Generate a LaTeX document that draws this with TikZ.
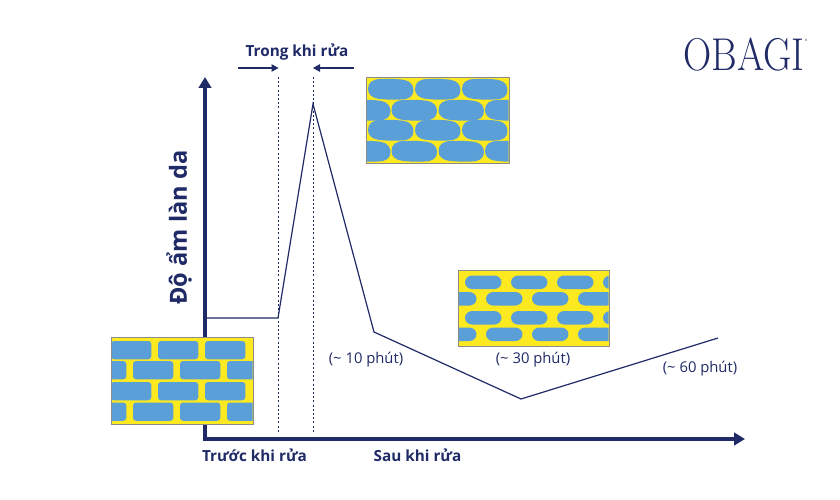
\documentclass[tikz,border=0pt]{standalone}
\usepackage{fontspec}
\setmainfont{Open Sans}
\newfontfamily\logofont{Latin Modern Roman}
\usetikzlibrary{arrows.meta}
\definecolor{navy}{HTML}{1F2A66}
\definecolor{cellblue}{HTML}{5B9FD9}
\definecolor{gapyellow}{HTML}{FDE91F}
\tikzset{
	axis/.style={navy,line width=3.4pt,-{Triangle[length=11pt,width=12.5pt]}},
	curve/.style={navy,line width=1.2pt,line join=miter},
	marker/.style={navy,line width=1pt,dash pattern=on 2pt off 2.2pt},
	span/.style={navy,line width=1.1pt,-{Triangle[length=7pt,width=7.5pt]}},
	label/.style={navy,font=\fontsize{15.3}{17}\selectfont\bfseries,inner sep=0pt},
	note/.style={navy,font=\fontsize{14.8}{16}\selectfont,inner sep=0pt},
	panel/.style={draw=black!45,line width=0.8pt,fill=gapyellow},
	cell/.style={fill=cellblue}
}
% one swollen cell: left, top, width, height
\newcommand{\swollencell}[4]{
	\fill[cell] (#1,#2+10) .. controls (#1,#2+3.5) and (#1+4.5,#2) .. (#1+13,#2)
		.. controls (#1+#3*0.4,#2-0.6) and (#1+#3*0.7,#2) .. (#1+#3-9,#2+1)
		.. controls (#1+#3-3.5,#2+2) and (#1+#3,#2+6) .. (#1+#3,#2+11)
		.. controls (#1+#3,#2+17) and (#1+#3-4,#2+#4) .. (#1+#3-13,#2+#4)
		.. controls (#1+#3*0.6,#2+#4+0.6) and (#1+#3*0.3,#2+#4) .. (#1+9,#2+#4-1)
		.. controls (#1+3.5,#2+#4-2) and (#1,#2+#4-5.5) .. (#1,#2+10) -- cycle;
}
% one shrunken cell: left, top
\newcommand{\shrunkencell}[2]{
	\fill[cell] (#1,#2+6.8) .. controls (#1,#2+3) and (#1+3.3,#2) .. (#1+7.5,#2)
		-- (#1+29,#2) .. controls (#1+33.2,#2) and (#1+36.5,#2+3) .. (#1+36.5,#2+6.8)
		.. controls (#1+36.5,#2+10.6) and (#1+33.2,#2+13.6) .. (#1+29,#2+13.6)
		-- (#1+7.5,#2+13.6) .. controls (#1+3.3,#2+13.6) and (#1,#2+10.6) .. (#1,#2+6.8) -- cycle;
}
\begin{document}
\begin{tikzpicture}[x=1pt,y=-1pt]
	\useasboundingbox (0,0) rectangle (840,500);
	\coordinate (origin) at (205,439);
	\coordinate (ytip) at (205,77);
	\coordinate (xtip) at (745,439);
	\coordinate (before) at (205,318);
	\coordinate (start) at (278,318);
	\coordinate (peak) at (313,104);
	\coordinate (tenmin) at (374,332);
	\coordinate (low) at (521,399);
	\coordinate (end) at (718,338);
	\coordinate (markAtop) at (278.5,77);
	\coordinate (markAbot) at (278.5,432);
	\coordinate (markBtop) at (313,77);
	\coordinate (markBbot) at (313,432);
	\coordinate (spanAfrom) at (238,68);
	\coordinate (spanAto) at (278.5,68);
	\coordinate (spanBfrom) at (354,68);
	\coordinate (spanBto) at (313,68);

	\draw[axis] ([xshift=-1.7pt]origin) -- (xtip);
	\draw[axis] (origin) -- (ytip);
	\draw[marker] (markAtop) -- (markAbot);
	\draw[marker] (markBtop) -- (markBbot);
	\draw[curve] (before) -- (start) -- (peak) -- (tenmin) -- (low) -- (end);
	\draw[span] (spanAfrom) -- (spanAto);
	\draw[span] (spanBfrom) -- (spanBto);

	% before washing
	\fill[panel] (111,337.5) rectangle (253,424.5);
	\begin{scope}
		\clip (111.5,338) rectangle (252.5,424);
		\foreach \y in {341,382} \foreach \x in {64,111,158,205}
			\fill[cell,rounded corners=3pt] (\x,\y) rectangle (\x+40.3,\y+18.3);
		\foreach \y in {361,402.5} \foreach \x in {86,133,180,227}
			\fill[cell,rounded corners=3pt] (\x,\y) rectangle (\x+40.3,\y+18.3);
	\end{scope}
	\draw[draw=black!45,line width=0.8pt] (111,337.5) rectangle (253,424.5);

	% during washing
	\fill[panel] (366,77.5) rectangle (509,163.5);
	\begin{scope}
		\clip (366.5,78) rectangle (508.5,163);
		\foreach \y in {79,120} \foreach \x in {368,415,462} {
			\swollencell{\x}{\y}{45.5}{20.5}
		}
		\foreach \y in {100,141} \foreach \x in {345,391.5,438.5,485} {
			\swollencell{\x}{\y}{45.5}{20.5}
		}
	\end{scope}
	\draw[draw=black!45,line width=0.8pt] (366,77.5) rectangle (509,163.5);

	% after washing
	\fill[panel] (458,270) rectangle (609,346.5);
	\begin{scope}
		\clip (458.5,270.5) rectangle (608.5,346);
		\foreach \y in {275.5,311} \foreach \x in {465,511,557,603} {
			\shrunkencell{\x}{\y}
		}
		\foreach \y in {292,327.5} \foreach \x in {440,486,532,578} {
			\shrunkencell{\x}{\y}
		}
	\end{scope}
	\draw[draw=black!45,line width=0.8pt] (458,270) rectangle (609,346.5);

	\node[label] (during) at (297,52) {Trong khi rửa};
	\node[label] (beforelabel) at (254.5,455) {Trước khi rửa};
	\node[label] (afterlabel) at (417.5,455) {Sau khi rửa};
	\node[label,font=\fontsize{23.6}{25}\selectfont\bfseries,rotate=90] (ylabel) at (179,227.5) {Độ ẩm làn da};
	\node[note] (ten) at (366,360) {(\textasciitilde{} 10 phút)};
	\node[note] (thirty) at (533,360) {(\textasciitilde{} 30 phút)};
	\node[note] (sixty) at (700,369) {(\textasciitilde{} 60 phút)};
	\node[navy,inner sep=0pt,xscale=0.85,font=\logofont\fontsize{46}{48}\selectfont] (logo) at (744,55) {OBAGI};
	\node[navy,inner sep=0pt,font=\fontsize{3}{3}\selectfont] (mark) at (806,40.5) {®};
\end{tikzpicture}
\end{document}
